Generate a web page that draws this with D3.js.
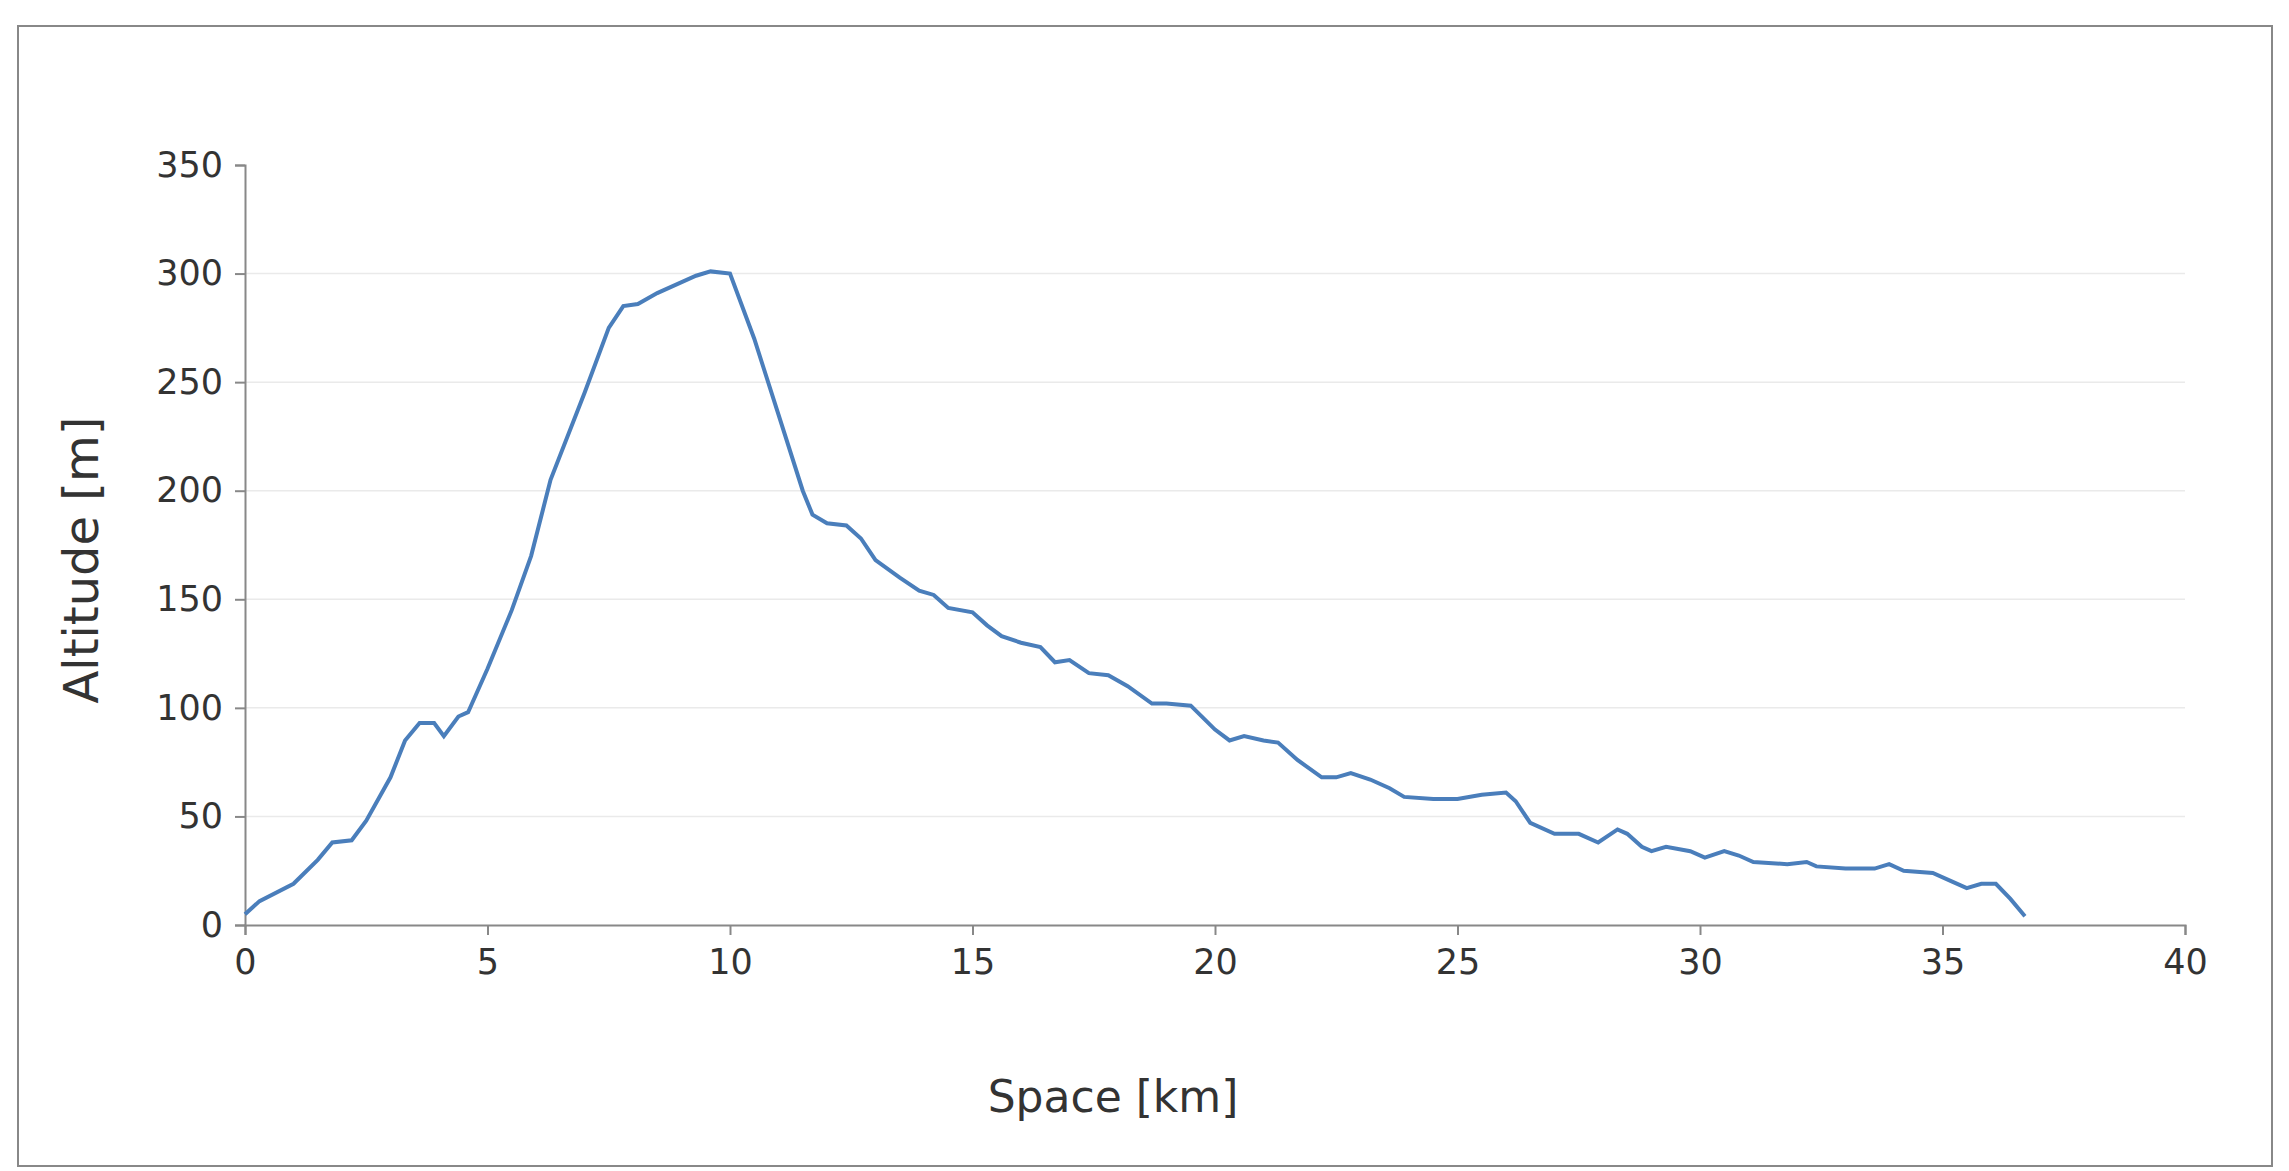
<!DOCTYPE html><html><head><meta charset="utf-8"><script src="https://cdn.jsdelivr.net/npm/d3@7"></script>
<style>body{margin:0;background:#fff}svg{display:block}</style></head><body><svg id="c" width="2289" height="1171"></svg><script>
const km=[0,0.3,1,1.5,1.8,2.2,2.5,3,3.3,3.6,3.9,4.1,4.4,4.6,5,5.5,5.9,6.3,7,7.5,7.8,8.1,8.5,9.3,9.6,10,10.5,11,11.5,11.7,12,12.4,12.7,13,13.5,13.9,14.2,14.5,15,15.3,15.6,16,16.4,16.7,17,17.4,17.8,18.2,18.7,19,19.5,20,20.3,20.6,21,21.3,21.7,22.2,22.5,22.8,23.2,23.6,23.9,24.5,25,25.5,26,26.2,26.5,27,27.2,27.5,27.9,28.3,28.5,28.8,29,29.3,29.8,30.1,30.5,30.8,31.1,31.8,32.2,32.4,33,33.6,33.9,34.2,34.8,35.2,35.5,35.8,36.1,36.4,36.7];
const alt=[5,11,19,30,38,39,48,68,85,93,93,87,96,98,118,145,170,205,245,275,285,286,291,299,301,300,270,235,200,189,185,184,178,168,160,154,152,146,144,138,133,130,128,121,122,116,115,110,102,102,101,90,85,87,85,84,76,68,68,70,67,63,59,58,58,60,61,57,47,42,42,42,38,44,42,36,34,36,34,31,34,32,29,28,29,27,26,26,28,25,24,20,17,19,19,12,4];
const xTicks=[0,5,10,15,20,25,30,35,40], yTicks=[0,50,100,150,200,250,300,350];
const svg=d3.select("#c");
svg.append("rect").attr("x",18).attr("y",26).attr("width",2254).attr("height",1140).attr("fill","none").attr("stroke","#888").attr("stroke-width",2);
const x=d3.scaleLinear().domain([0,40]).range([245,2185]);
const y=d3.scaleLinear().domain([0,350]).range([925,165]);
svg.append("g").selectAll("line").data(yTicks.filter(d=>d>0&&d<350)).join("line")
 .attr("x1",x(0)).attr("x2",x(40)).attr("y1",d=>y(d)).attr("y2",d=>y(d)).attr("stroke","#eaeaea").attr("stroke-width",1.5);
const ax=svg.append("g").attr("transform","translate(0,925)").call(d3.axisBottom(x).tickValues(xTicks).tickSize(10).tickPadding(14));
const ay=svg.append("g").attr("transform","translate(245,0)").call(d3.axisLeft(y).tickValues(yTicks).tickSize(10).tickPadding(12));
[ax,ay].forEach(g=>{g.selectAll("path,line").attr("stroke","#888").attr("stroke-width",2);g.selectAll("text").attr("font-family","DejaVu Sans").attr("font-size",35).attr("fill","#333");});
svg.append("path").datum(km.map((k,i)=>[k,alt[i]])).attr("d",d3.line().x(d=>x(d[0])).y(d=>y(d[1])))
 .attr("fill","none").attr("stroke","#4a7ebb").attr("stroke-width",4);
svg.append("text").attr("x",1113).attr("y",1112).attr("text-anchor","middle").attr("font-family","DejaVu Sans").attr("font-size",44).attr("fill","#333").text("Space [km]");
svg.append("text").attr("transform","translate(98,560) rotate(-90)").attr("text-anchor","middle").attr("font-family","DejaVu Sans").attr("font-size",48).attr("fill","#333").text("Altitude [m]");
</script></body></html>
